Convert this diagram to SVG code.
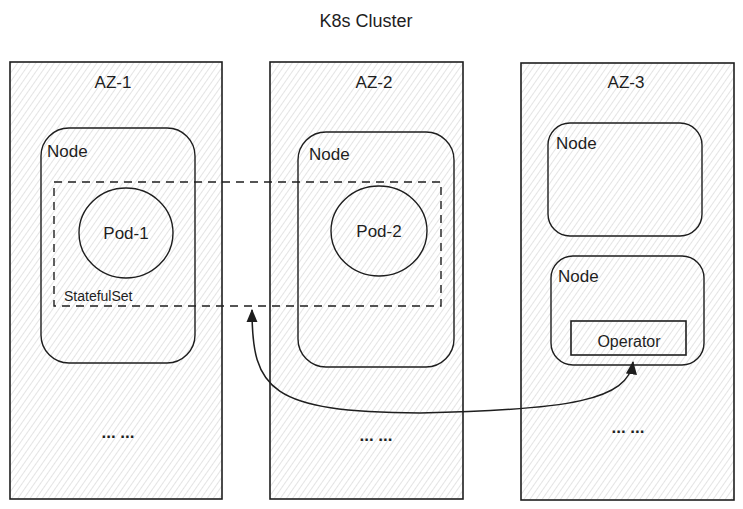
<svg xmlns="http://www.w3.org/2000/svg" width="743" height="509" viewBox="0 0 743 509">
<defs>
<pattern id="hatch" width="5" height="5" patternUnits="userSpaceOnUse" patternTransform="rotate(35)">
<line x1="0" y1="0" x2="0" y2="5" stroke="#c4c4c4" stroke-width="0.9"/>
</pattern>
<marker id="ah" viewBox="0 0 12 10" refX="11" refY="5" markerWidth="9" markerHeight="8" orient="auto-start-reverse" markerUnits="strokeWidth">
<path d="M0,0 L12,5 L0,10 z" fill="#1e1e1e"/>
</marker>
<style>
.az{fill:url(#hatch);stroke:#1e1e1e;stroke-width:1.6}
.node{fill:none;stroke:#1e1e1e;stroke-width:1.4}
.pod{fill:none;stroke:#1e1e1e;stroke-width:1.4}
.t{font-family:"Liberation Sans",Arial,sans-serif;fill:#1e1e1e}
.lbl{font-size:17px}
.sm{font-size:14px}
.dots{font-size:17px;font-weight:bold}
</style>
</defs>
<rect width="743" height="509" fill="#ffffff"/>
<text class="t" x="366" y="27" font-size="18" text-anchor="middle">K8s Cluster</text>
<g id="az1">
<rect class="az" x="10" y="62" width="212" height="437"/>
<text class="t lbl" x="113" y="88" text-anchor="middle">AZ-1</text>
<text class="t dots" x="118" y="438" text-anchor="middle">... ...</text>
</g>
<g id="az2">
<rect class="az" x="270" y="62" width="193" height="437"/>
<text class="t lbl" x="374" y="88" text-anchor="middle">AZ-2</text>
<text class="t dots" x="376" y="441" text-anchor="middle">... ...</text>
</g>
<g id="az3">
<rect class="az" x="521" y="63" width="213" height="437"/>
<text class="t lbl" x="626" y="88" text-anchor="middle">AZ-3</text>
<text class="t dots" x="628" y="433" text-anchor="middle">... ...</text>
</g>
<g id="node1">
<rect class="node" x="41" y="128" width="154" height="235" rx="28"/>
<text class="t lbl" x="47" y="157">Node</text>
</g>
<g id="node2">
<rect class="node" x="298" y="132" width="156" height="235" rx="28"/>
<text class="t lbl" x="309" y="160">Node</text>
</g>
<g id="node3a">
<rect class="node" x="548" y="123" width="154" height="113" rx="22"/>
<text class="t lbl" x="556" y="149">Node</text>
</g>
<g id="node3b">
<rect class="node" x="551" y="256" width="153" height="109" rx="22"/>
<text class="t lbl" x="558" y="282">Node</text>
</g>
<g id="pod1">
<ellipse class="pod" cx="126" cy="233" rx="47" ry="45"/>
<text class="t lbl" x="126" y="239" text-anchor="middle">Pod-1</text>
</g>
<g id="pod2">
<ellipse class="pod" cx="379" cy="231" rx="48" ry="45"/>
<text class="t lbl" x="379" y="237" text-anchor="middle">Pod-2</text>
</g>
<g id="statefulset">
<rect x="54" y="182" width="387" height="124" fill="none" stroke="#1e1e1e" stroke-width="1.4" stroke-dasharray="8 6"/>
<text class="t sm" x="64" y="301">StatefulSet</text>
</g>
<g id="operator">
<rect x="571" y="321" width="115" height="34" fill="none" stroke="#1e1e1e" stroke-width="1.6"/>
<text class="t" x="629" y="347" font-size="16" text-anchor="middle">Operator</text>
</g>
<g id="connectors">
<path d="M252,310 C252,390 270,412 420,413 C570,410 628,400 633,362" fill="none" stroke="#1e1e1e" stroke-width="1.5" marker-start="url(#ah)" marker-end="url(#ah)"/>
</g>
</svg>
